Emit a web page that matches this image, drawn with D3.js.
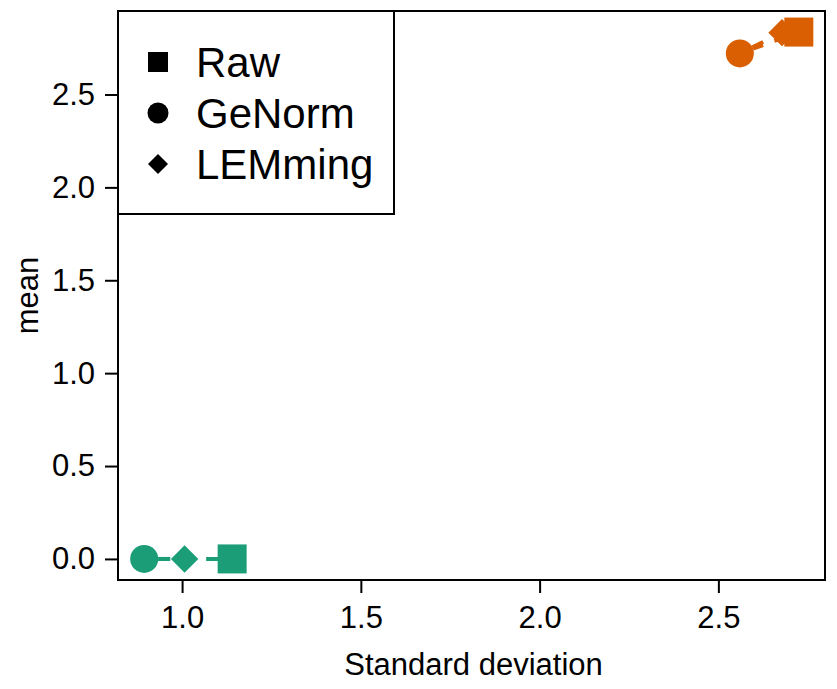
<!DOCTYPE html>
<html>
<head>
<meta charset="utf-8">
<script src="https://cdn.jsdelivr.net/npm/d3@7"></script>
<style>
  html, body { margin: 0; padding: 0; background: #fff; }
  svg text { font-family: "Liberation Sans", Arial, Helvetica, sans-serif; fill: #000; }
</style>
</head>
<body>
<svg id="chart" width="837" height="689"></svg>
<script>
// Methods in legend order; points of a group are joined in this order.
const methods = ["Raw", "GeNorm", "LEMming"];
const methodShapes = ["square", "circle", "diamond"];

// Two groups of genes, each with (sd, mean) per method.
const groups = ["group1", "group2"];
const groupColors = ["#1B9E77", "#D95F02"];
const sdGroup1 = [1.140, 0.894, 1.007];
const meanGroup1 = [0.000, 0.000, 0.000];
const sdGroup2 = [2.725, 2.560, 2.678];
const meanGroup2 = [2.836, 2.721, 2.833];

const xTicks = [1.0, 1.5, 2.0, 2.5];
const yTicks = [0.0, 0.5, 1.0, 1.5, 2.0, 2.5];
const xTitle = "Standard deviation";
const yTitle = "mean";

const series = [
  { color: groupColors[0], sd: sdGroup1, mean: meanGroup1 },
  { color: groupColors[1], sd: sdGroup2, mean: meanGroup2 }
];

const svg = d3.select("#chart");
const plot = { left: 118, top: 11, right: 825, bottom: 580 };

// Axis limits padded by 4% on each side, as base graphics does.
function padded(vals) {
  const [lo, hi] = d3.extent(vals);
  const p = (hi - lo) * 0.04;
  return [lo - p, hi + p];
}
const allSd = series.flatMap(s => s.sd);
const allMean = series.flatMap(s => s.mean);

const x = d3.scaleLinear().domain(padded(allSd)).range([plot.left, plot.right]);
const y = d3.scaleLinear().domain(padded(allMean)).range([plot.bottom, plot.top]);

const axisFont = 31;

// Y axis
const yAxis = svg.append("g")
  .attr("transform", `translate(${plot.left},0)`)
  .call(d3.axisLeft(y).tickValues(yTicks).tickFormat(d3.format(".1f")).tickSize(13).tickPadding(10));
yAxis.select(".domain").remove();
yAxis.selectAll(".tick line").attr("stroke", "#000").attr("stroke-width", 2);
yAxis.selectAll(".tick text").attr("font-size", axisFont).attr("fill", "#000");

// X axis
const xAxis = svg.append("g")
  .attr("transform", `translate(0,${plot.bottom})`)
  .call(d3.axisBottom(x).tickValues(xTicks).tickFormat(d3.format(".1f")).tickSize(13).tickPadding(13));
xAxis.select(".domain").remove();
xAxis.selectAll(".tick line").attr("stroke", "#000").attr("stroke-width", 2);
xAxis.selectAll(".tick text").attr("font-size", axisFont).attr("fill", "#000");

// Axis titles
svg.append("text")
  .attr("x", (plot.left + plot.right) / 2 + 2)
  .attr("y", 675)
  .attr("text-anchor", "middle")
  .attr("font-size", axisFont)
  .text(xTitle);
svg.append("text")
  .attr("transform", `translate(38,${(plot.top + plot.bottom) / 2}) rotate(-90)`)
  .attr("text-anchor", "middle")
  .attr("font-size", axisFont)
  .text(yTitle);

// Symbol drawing helper
function drawShape(g, shape, cx, cy, r, color) {
  if (shape === "square") {
    g.append("rect").attr("x", cx - r).attr("y", cy - r)
      .attr("width", 2 * r).attr("height", 2 * r).attr("fill", color);
  } else if (shape === "circle") {
    g.append("circle").attr("cx", cx).attr("cy", cy).attr("r", r).attr("fill", color);
  } else {
    g.append("path")
      .attr("d", `M${cx - r},${cy}L${cx},${cy - r}L${cx + r},${cy}L${cx},${cy + r}Z`)
      .attr("fill", color);
  }
}

// Dashed connectors with a gap around each point, then the points.
const lineGap = 14;
const marks = svg.append("g");
series.forEach(s => {
  const pts = s.sd.map((v, i) => [x(v), y(s.mean[i])]);
  for (let i = 0; i < pts.length - 1; i++) {
    const [x0, y0] = pts[i], [x1, y1] = pts[i + 1];
    const len = Math.hypot(x1 - x0, y1 - y0);
    if (len <= 2 * lineGap) continue;
    const ux = (x1 - x0) / len, uy = (y1 - y0) / len;
    marks.append("line")
      .attr("x1", x0 + ux * lineGap).attr("y1", y0 + uy * lineGap)
      .attr("x2", x1 - ux * lineGap).attr("y2", y1 - uy * lineGap)
      .attr("stroke", s.color).attr("stroke-width", 4)
      .attr("stroke-dasharray", "12,12");
  }
});
const pointSize = { square: 14.5, circle: 14, diamond: 13.7 };
series.forEach(s => {
  s.sd.forEach((v, i) => {
    const shape = methodShapes[i];
    drawShape(marks, shape, x(v), y(s.mean[i]), pointSize[shape], s.color);
  });
});

// Plot frame
svg.append("rect")
  .attr("x", plot.left).attr("y", plot.top)
  .attr("width", plot.right - plot.left).attr("height", plot.bottom - plot.top)
  .attr("fill", "none").attr("stroke", "#000").attr("stroke-width", 2);

// Legend
const legend = svg.append("g");
legend.append("rect")
  .attr("x", plot.left).attr("y", plot.top)
  .attr("width", 394 - plot.left).attr("height", 214 - plot.top)
  .attr("fill", "#fff").attr("stroke", "#000").attr("stroke-width", 2);
const legendSize = { square: 10, circle: 10.5, diamond: 10 };
methods.forEach((m, i) => {
  const cy = 62 + i * 51;
  drawShape(legend, methodShapes[i], 158, cy, legendSize[methodShapes[i]], "#000");
  legend.append("text")
    .attr("x", 196).attr("y", cy + 15)
    .attr("font-size", 42)
    .text(m);
});
</script>
</body>
</html>
